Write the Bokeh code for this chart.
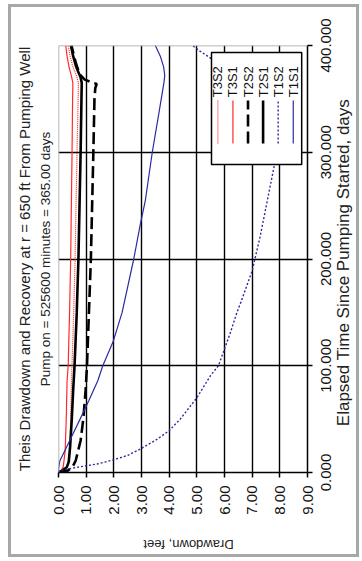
import math
from bokeh.plotting import figure
from bokeh.layouts import row, column
from bokeh.models import FixedTicker, PrintfTickFormatter, Span, Range1d, Title
from bokeh.core.properties import value
from bokeh.embed import file_html
from bokeh.resources import INLINE

# ---------------- data (elapsed time in days, drawdown in feet) ----------------
t_T3S2 = [0, 2, 5, 10, 30, 86, 150, 200, 260, 300, 350, 365, 371, 380, 390, 400]
dd_T3S2 = [0, 0.2, 0.3, 0.36, 0.42, 0.47, 0.55, 0.6, 0.64, 0.67, 0.71, 0.72, 0.66, 0.52, 0.42, 0.35]

t_T3S1 = [0, 2, 5, 20, 50, 86, 100, 150, 200, 260, 300, 350, 365, 372, 380, 390, 400]
dd_T3S1 = [0, 0.1, 0.17, 0.24, 0.28, 0.31, 0.35, 0.4, 0.44, 0.47, 0.49, 0.51, 0.52, 0.46, 0.38, 0.31, 0.26]

t_T2S2 = [0, 2, 5, 11, 30, 51, 77, 100, 150, 200, 255, 300, 350, 360, 364, 366, 368, 372, 380, 390, 400]
dd_T2S2 = [0, 0.35, 0.5, 0.62, 0.8, 0.9, 0.98, 1.03, 1.1, 1.17, 1.22, 1.26, 1.3, 1.33, 1.38, 1.15, 0.95, 0.8, 0.67, 0.56, 0.47]

t_T2S1 = [0, 2, 5, 10, 24, 50, 77, 100, 150, 200, 250, 300, 350, 365, 370, 375, 380, 390, 400]
dd_T2S1 = [0, 0.15, 0.3, 0.37, 0.42, 0.48, 0.53, 0.58, 0.66, 0.72, 0.76, 0.8, 0.83, 0.84, 0.8, 0.72, 0.64, 0.53, 0.45]

t_T1S2 = [0, 2, 5, 8, 12, 16, 22, 30, 39, 50, 70, 91, 100, 130, 150, 160, 189, 220, 255, 285, 300, 330,
          365, 367, 370, 375, 380, 385, 389, 395, 400]
dd_T1S2 = [0, 0.05, 0.7, 1.4, 2.0, 2.5, 2.96, 3.5, 3.99, 4.4, 5.0, 5.5, 5.78, 6.2, 6.45, 6.6, 7.0, 7.28, 7.55, 7.78, 7.9, 8.1,
           8.3, 8.15, 7.7, 6.6, 6.0, 5.65, 5.45, 5.1, 4.84]

t_T1S1 = [0, 5, 11, 20, 36, 50, 67, 86, 100, 123, 150, 200, 233, 255, 300, 340, 365, 372, 380, 390, 400]
dd_T1S1 = [0, 0.01, 0.05, 0.22, 0.52, 0.78, 1.09, 1.42, 1.6, 1.98, 2.3, 2.72, 2.96, 3.14, 3.39, 3.65, 3.81, 3.84, 3.8, 3.68, 3.5]

series_names = ["T3S2", "T3S1", "T2S2", "T2S1", "T1S2", "T1S1"]
series_t = [t_T3S2, t_T3S1, t_T2S2, t_T2S1, t_T1S2, t_T1S1]
series_dd = [dd_T3S2, dd_T3S1, dd_T2S2, dd_T2S1, dd_T1S2, dd_T1S1]

dd_ticks = [0, 1, 2, 3, 4, 5, 6, 7, 8, 9]
time_ticks = [0, 100, 200, 300, 400]

title_text = "Theis Drawdown and Recovery at r = 650 ft From Pumping Well"
subtitle_text = "Pump on = 525600 minutes = 365.00 days"
dd_title = "Drawdown, feet"
time_title = "Elapsed Time Since Pumping Started, days"

# ---------------- styles ----------------
RED = "#ff2a2a"
BLUE = "#2b2b9e"
styles = {
    "T3S2": dict(line_color=RED, line_width=1.2, line_dash="1 1"),
    "T3S1": dict(line_color=RED, line_width=1.2),
    "T2S2": dict(line_color="black", line_width=2.6, line_dash="12 5"),
    "T2S1": dict(line_color="black", line_width=2.6),
    "T1S2": dict(line_color=BLUE, line_width=1.4, line_dash="2 2"),
    "T1S1": dict(line_color=BLUE, line_width=1.2),
}
FONT = "Liberation Sans"
TXT = "#222222"


def blank(fig):
    fig.background_fill_color = "white"
    fig.border_fill_color = "white"
    fig.outline_line_color = None


# ---------------- main plot ----------------
p = figure(frame_width=249, frame_height=427,
           x_range=Range1d(0, 9), y_range=Range1d(0, 400),
           y_axis_location="right",
           output_backend="svg", toolbar_location=None,
           min_border_left=47, min_border_right=9,
           min_border_top=38, min_border_bottom=56)
blank(p)

# grids
p.xgrid.ticker = FixedTicker(ticks=dd_ticks[1:-1])
p.ygrid.ticker = FixedTicker(ticks=time_ticks[1:-1])
p.xgrid.grid_line_color = "black"
p.ygrid.grid_line_color = "black"
p.xgrid.grid_line_width = 1.4
p.ygrid.grid_line_width = 1.4
p.add_layout(Span(location=0, dimension="height", line_color="#a0a0a0", line_width=1.5))
p.add_layout(Span(location=400, dimension="width", line_color="#a0a0a0", line_width=1.5))

for ax, ticks in ((p.xaxis, dd_ticks), (p.yaxis, time_ticks)):
    ax.ticker = FixedTicker(ticks=ticks)
    ax.major_tick_out = 5
    ax.major_tick_in = 0
    ax.minor_tick_line_color = None
    ax.axis_line_color = "black"
    ax.axis_line_width = 1.5
    ax.major_tick_line_color = "black"
    ax.major_tick_line_width = 1.5

# drawdown axis (bottom)
p.xaxis.formatter = PrintfTickFormatter(format="%.2f")
p.xaxis.major_label_orientation = math.pi / 2
p.xaxis.major_label_text_font = FONT
p.xaxis.major_label_text_font_size = "15px"
p.xaxis.major_label_text_color = "#111111"
p.xaxis.major_label_standoff = 8

# time axis: line + ticks here, its labels are drawn by the side panel's axis
p.yaxis.major_label_text_color = None
p.yaxis.major_label_text_font_size = "1px"
p.yaxis.major_label_standoff = 0

# series
for name, tt, dd in zip(series_names, series_t, series_dd):
    p.line(x=dd, y=tt, **styles[name])

# legend (rotated, drawn by hand)
p.quad(left=[5.53], right=[8.79], bottom=[288.5], top=[393.4],
       fill_color="white", line_color="black", line_width=1.5)
for i, name in enumerate(series_names):
    lx = 5.76 + i * 0.545
    p.segment(x0=[lx], y0=[308.2], x1=[lx], y1=[348.5], **styles[name])
    p.text(x=[lx], y=[351.5], text=[name], angle=math.pi / 2,
           text_align="left", text_baseline="middle",
           text_font=value(FONT), text_font_size="13px", text_color="#111111")

# titles on the left side (first added sits nearest the plot)
title_props = Title.properties()
def make_title(text, size, standoff, offset):
    kw = dict(text=text, align="center", text_font=FONT, text_font_size=size,
              text_font_style="normal", text_color=TXT, offset=offset)
    if "standoff" in title_props:
        kw["standoff"] = standoff
    return Title(**kw)

p.add_layout(make_title(subtitle_text, "13.5px", 12, -12), "left")
p.add_layout(make_title(title_text, "15px", -6, -15), "left")

# ---------------- side panel: time tick labels + time axis title ----------------
ps = figure(frame_width=26, frame_height=427,
            x_range=Range1d(0, 1), y_range=Range1d(0, 400),
            y_axis_location="left", x_axis_location=None,
            output_backend="svg", toolbar_location=None,
            min_border_left=14, min_border_right=0,
            min_border_top=38, min_border_bottom=56)
blank(ps)
ps.grid.visible = False
ps.yaxis.ticker = FixedTicker(ticks=time_ticks)
ps.yaxis.formatter = PrintfTickFormatter(format="%.3f")
ps.yaxis.major_label_orientation = "vertical"
ps.yaxis.axis_line_color = None
ps.yaxis.major_tick_line_color = None
ps.yaxis.minor_tick_line_color = None
ps.yaxis.major_tick_out = 0
ps.yaxis.major_tick_in = 0
ps.yaxis.major_label_standoff = 0
ps.yaxis.major_label_text_font = FONT
ps.yaxis.major_label_text_font_size = "15px"
ps.yaxis.major_label_text_color = "#111111"

ps.text(x=[0.5], y=[196.7], text=[time_title], angle=math.pi / 2,
        text_align="center", text_baseline="middle",
        text_font=value(FONT), text_font_size="17px", text_color=TXT)

# ---------------- bottom strip: drawdown axis title (upside down) ----------------
pb = figure(frame_width=249, frame_height=26,
            x_range=Range1d(0, 9), y_range=Range1d(0, 1),
            x_axis_location=None, y_axis_location=None,
            output_backend="svg", toolbar_location=None,
            min_border_left=47, min_border_right=0,
            min_border_top=0, min_border_bottom=0)
blank(pb)
pb.grid.visible = False
pb.text(x=[4.7], y=[0.385], text=[dd_title], angle=math.pi,
        text_align="center", text_baseline="middle",
        text_font=value(FONT), text_font_size="13px", text_color=TXT)

layout = column(row(p, ps), pb)
layout.styles = {"border": "3px solid #a8a8a8", "margin": "4px 0px 0px 8px"}

open("out.html", "w").write(file_html(layout, INLINE))
